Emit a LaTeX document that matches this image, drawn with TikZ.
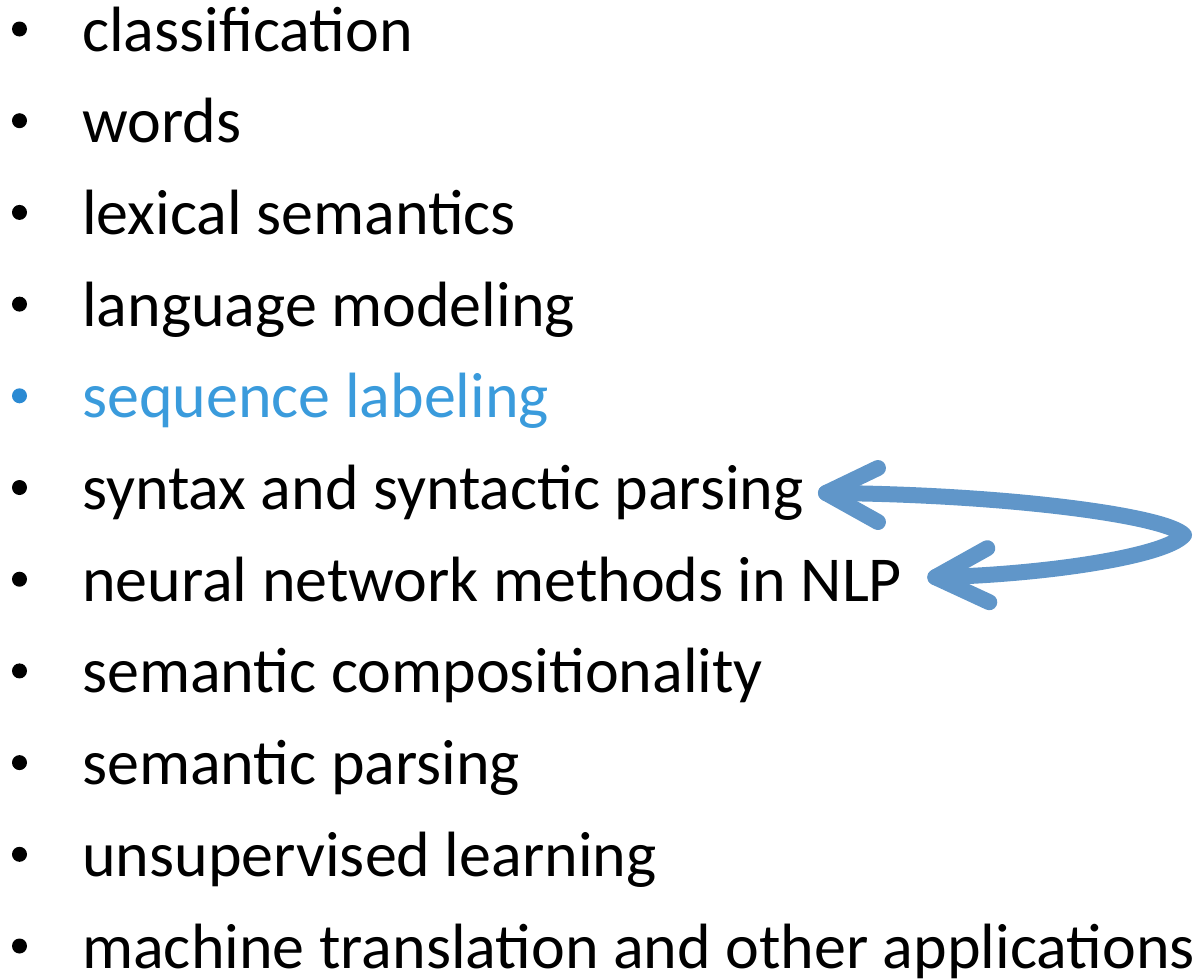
\documentclass[tikz,border=0pt]{standalone}
\usepackage{fontspec}
\setmainfont{Carlito}
\definecolor{itemblue}{HTML}{3A9BDC}
\definecolor{dotblue}{HTML}{2B8AD3}
\definecolor{arrowblue}{HTML}{6096C9}
\tikzset{
  entry/.style={anchor=base west, inner sep=0pt, font=\fontsize{64}{64}\selectfont},
  dot/.style={circle, fill=black, inner sep=0pt, minimum size=15pt},
  loop/.style={draw=arrowblue, line width=16pt, line cap=round, line join=round}
}
\begin{document}
\begin{tikzpicture}[x=1pt,y=-1pt]
\useasboundingbox (0,0) rectangle (1200,980);
\foreach \i/\txt/\nm in {0/classification/a, 1/words/b, 2/lexical semantics/c,
  3/language modeling/d, 5/syntax and syntactic parsing/syn,
  6/neural network methods in NLP/nn, 7/semantic compositionality/g,
  8/semantic parsing/h, 9/unsupervised learning/k,
  10/machine translation and other applications/m}{
  \node[entry] (\nm) at (82,{51+91.7*\i}) {\txt};
  \node[dot] (dot\nm) at (19.5,{29+91.7*\i}) {};
}
\node[entry, text=itemblue] (seq) at (82,{51+91.7*4}) {sequence labeling};
\node[dot, fill=dotblue] (dotseq) at (19.5,{29+91.7*4}) {};
% curved return arrow linking the two topics
\coordinate (t1) at ([xshift=22pt,yshift=16.5pt]syn.base east);
\coordinate (t2) at ([xshift=33pt,yshift=24pt]nn.base east);
\coordinate (turn) at (1184,535);
\draw[loop] (t1) .. controls (1000,494) and (1165,515) .. (turn)
  .. controls (1165,557) and (1040,575) .. (t2);
\draw[loop] ([xshift=52pt,yshift=25pt]t1) -- (t1) -- ([xshift=52pt,yshift=-29pt]t1);
\draw[loop] ([xshift=52pt,yshift=29pt]t2) -- (t2) -- ([xshift=54pt,yshift=-25pt]t2);
\end{tikzpicture}
\end{document}
